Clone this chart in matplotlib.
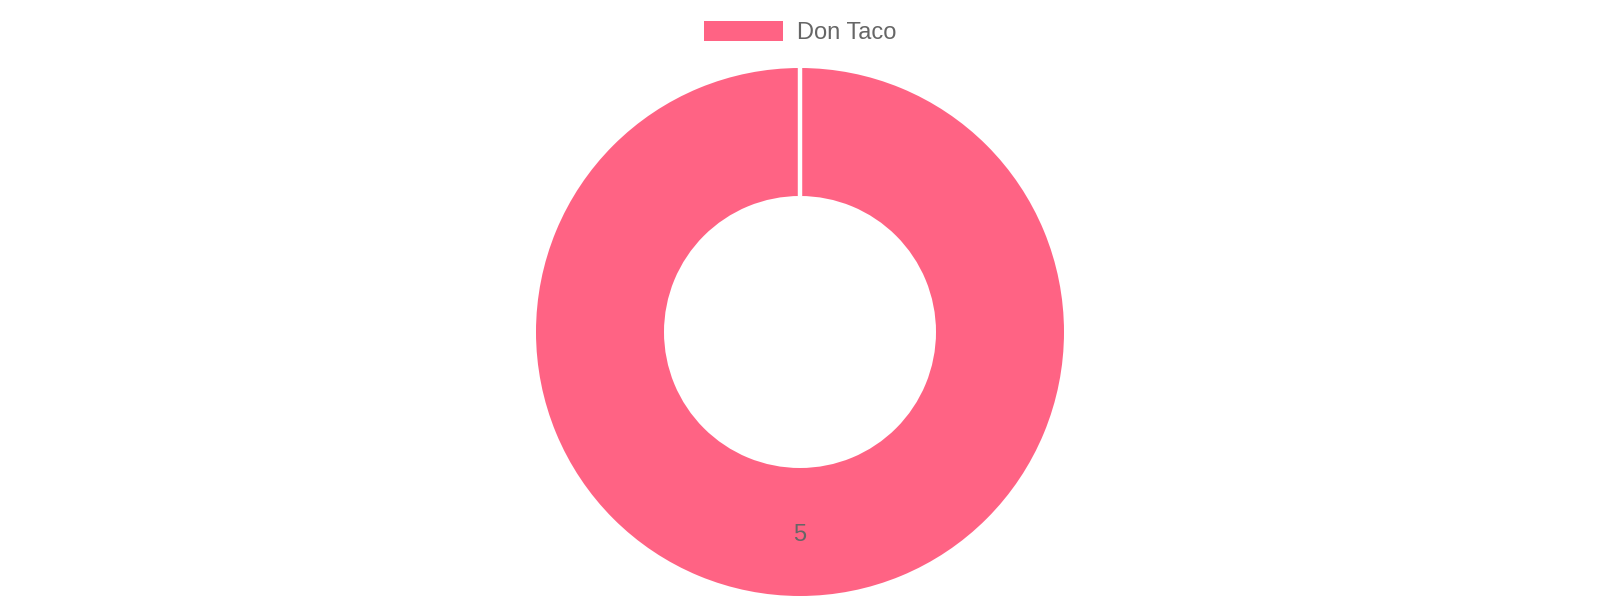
import numpy as np
import matplotlib
matplotlib.use("Agg")
import matplotlib.pyplot as plt

# data
labels = ["Don Taco"]
values = [5]
colors = ["#FF6384"]

plt.rcParams['font.family'] = ['Liberation Sans', 'DejaVu Sans']

W, H = 1600, 600
fig = plt.figure(figsize=(W / 100, H / 100), dpi=100)
ax = fig.add_axes([0, 0, 1, 1])
ax.set_xlim(0, W)
ax.set_ylim(0, H)
ax.axis('off')

# geometry in pixels (y up)
cx, cy = 800, 268
r_out, r_in = 264, 136

wedges, texts, autotexts = ax.pie(
    values, colors=colors, radius=r_out, center=(cx, cy),
    startangle=90, counterclock=False,
    wedgeprops=dict(width=r_out - r_in, linewidth=0),
    autopct=lambda p: f"{p * sum(values) / 100:.0f}",
    pctdistance=(r_out + r_in) / 2 / r_out + 0.01,
    textprops=dict(color='#666666', fontsize=17),
    frame=True,
)
ax.set_xlim(0, W)
ax.set_ylim(0, H)
ax.set_aspect('equal', adjustable='datalim')
ax.axis('off')

# white border line where the single slice starts/ends
ax.plot([cx, cx], [cy + r_in, cy + r_out], color='white', lw=3.2,
        solid_capstyle='butt', zorder=5)

leg = fig.legend(wedges, labels, loc='upper center', bbox_to_anchor=(0.5, 1 - 21 / H),
                 frameon=False, fontsize=17, handlelength=3.35, handleheight=0.95,
                 handletextpad=0.6, borderpad=0, borderaxespad=0)
for t in leg.get_texts():
    t.set_color('#666666')

fig.savefig("out.png", dpi=100)
